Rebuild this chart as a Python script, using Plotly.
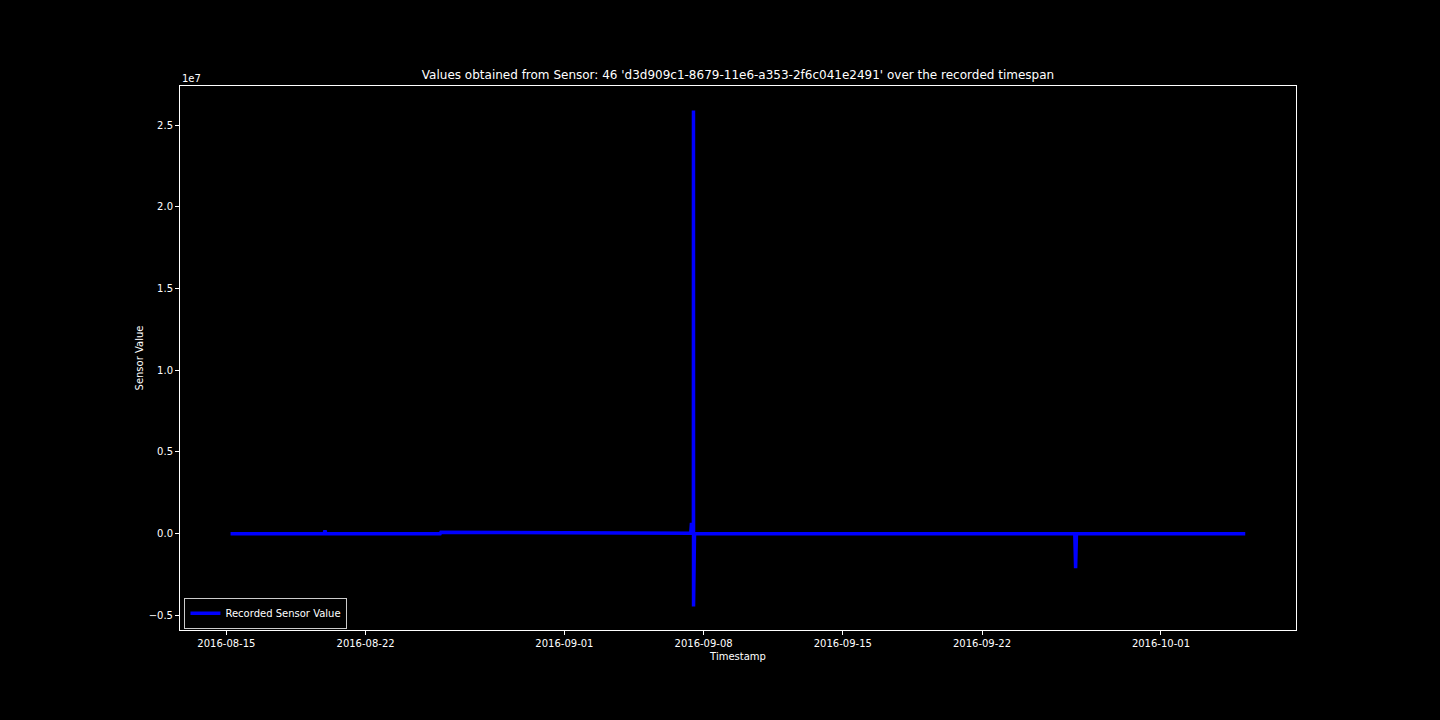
import plotly.graph_objects as go

# Data
timestamps = [
    "2016-08-15 05:00", "2016-08-19 22:00", "2016-08-19 23:00", "2016-08-20 00:00",
    "2016-08-25 18:00", "2016-08-25 19:00", "2016-09-01 00:00", "2016-09-07 08:30",
    "2016-09-07 09:20", "2016-09-07 10:30", "2016-09-07 11:40", "2016-09-07 11:45",
    "2016-09-07 11:50", "2016-09-07 13:00", "2016-09-15 00:00", "2016-09-26 16:00",
    "2016-09-26 17:00", "2016-09-26 18:00", "2016-10-05 05:45",
]
sensor_values = [
    0, 0, 200000, 0,
    0, 90000, 60000, 30000,
    670000, 20000, 0, 25890000,
    -4450000, 0, 0, 0,
    -2110000, 0, 0,
]

x_tick_vals = ["2016-08-15", "2016-08-22", "2016-09-01", "2016-09-08",
               "2016-09-15", "2016-09-22", "2016-10-01"]
x_tick_text = x_tick_vals
y_tick_vals = [-5e6, 0, 5e6, 10e6, 15e6, 20e6, 25e6]
y_tick_text = ["\u22120.5", "0.0", "0.5", "1.0", "1.5", "2.0", "2.5"]

title_text = "Values obtained from Sensor: 46 'd3d909c1-8679-11e6-a353-2f6c041e2491' over the recorded timespan"

fg = "#ffffff"
font_family = "DejaVu Sans"

fig = go.Figure()
fig.add_trace(go.Scatter(
    x=timestamps, y=sensor_values, mode="lines",
    line=dict(color="#0000ff", width=3.5),
    name="Recorded Sensor Value",
))

fig.update_layout(
    width=1440, height=720,
    margin=dict(l=180, r=144, t=86, b=90),
    paper_bgcolor="#000000", plot_bgcolor="#000000",
    font=dict(family=font_family, size=10, color=fg),
    title=dict(text=title_text, x=0.5, xref="paper", xanchor="center",
               y=1 - 75 / 720, yanchor="middle", font=dict(size=12, color=fg)),
    showlegend=True,
    legend=dict(x=0.004, y=0.031, xanchor="left", yanchor="middle",
                bgcolor="#000000", bordercolor="#cccccc", borderwidth=1,
                font=dict(size=10, color=fg), itemwidth=30),
)

fig.update_xaxes(
    type="date",
    range=["2016-08-12 16:00", "2016-10-07 19:00"],
    tickvals=x_tick_vals, ticktext=x_tick_text,
    ticks="outside", ticklen=4, tickcolor=fg, tickwidth=1,
    showline=True, linecolor=fg, linewidth=1, mirror=True,
    showgrid=False, zeroline=False,
    title=dict(text="Timestamp", font=dict(size=10, color=fg), standoff=4),
    tickfont=dict(size=10, color=fg),
)
fig.update_yaxes(
    range=[-5.89e6, 27.39e6],
    tickvals=y_tick_vals, ticktext=y_tick_text,
    ticks="outside", ticklen=4, tickcolor=fg, tickwidth=1,
    showline=True, linecolor=fg, linewidth=1, mirror=True,
    showgrid=False, zeroline=False,
    title=dict(text="Sensor Value", font=dict(size=10, color=fg), standoff=3),
    tickfont=dict(size=10, color=fg),
)

fig.add_annotation(text="1e7", xref="paper", yref="paper", x=0, y=1,
                   xanchor="left", yanchor="bottom", showarrow=False,
                   font=dict(size=10, color=fg), yshift=0)

fig.write_html("out.html")
